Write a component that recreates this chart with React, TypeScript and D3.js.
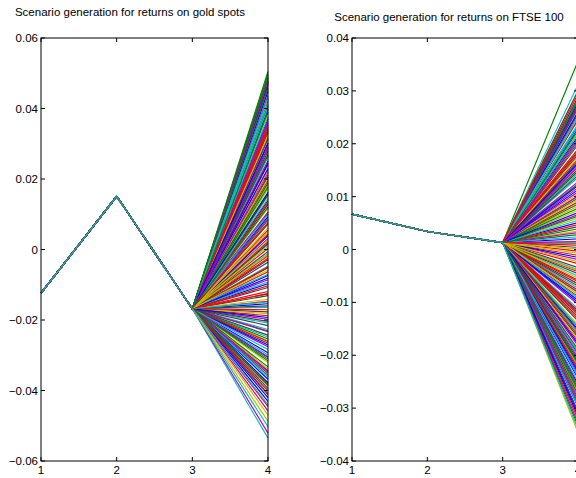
import React from 'react';
import * as d3 from 'd3';

// x positions of the scenario tree stages
const stages = [1, 2, 3, 4];

// Gold spot returns: common history for stages 1-3
const goldPath = [-0.0124, 0.0151, -0.0168];
// Gold spot returns: scenario values at stage 4
const goldEnd = [
  -0.0368, 0.0083, -0.0147, 0.0301, -0.0276, 0.0172, -0.0052, 0.0398, -0.0233, 0.0219, -0.0012, 0.0437, -0.0321, 0.0128, -0.0097, 0.0353, -0.0188, 0.0262, 0.0031, 0.0486,
  -0.0029, -0.0305, 0.0286, 0.0055, -0.0209, 0.0466, 0.0151, -0.0125, 0.0371, -0.0344, 0.0196, 0.0014, 0.0478, -0.0259, 0.0331, -0.0074, 0.0101, 0.0421, -0.0164, 0.0241,
  0.0184, -0.0177, 0.0409, -0.0357, 0.0044, 0.0273, -0.0086, 0.0493, -0.0266, 0.0139, 0.0358, 0.0003, -0.0227, 0.0224, 0.0454, -0.0131, 0.0093, -0.0311, 0.0318, -0.0047,
  -0.0198, 0.0386, 0.0072, -0.0293, 0.0247, -0.0063, 0.0489, 0.0157, -0.0339, 0.0342, -0.0154, 0.0472, 0.0022, -0.0248, 0.0297, 0.0117, -0.0108, 0.0427, 0.0206, -0.0018,
  -0.0362, 0.0088, -0.0141, 0.0313, -0.0271, 0.0178, -0.0050, 0.0404, -0.0231, 0.0223, -0.0006, 0.0449, -0.0316, 0.0133, -0.0092, 0.0359, -0.0182, 0.0268, 0.0039, 0.0482,
  -0.0025, -0.0299, 0.0291, 0.0061, -0.0204, 0.0470, 0.0155, -0.0119, 0.0376, -0.0346, 0.0201, 0.0017, 0.0474, -0.0254, 0.0336, -0.0070, 0.0106, 0.0426, -0.0160, 0.0245,
  0.0189, -0.0171, 0.0414, -0.0351, 0.0050, 0.0279, -0.0081, 0.0487, -0.0261, 0.0144, 0.0365, 0.0009, -0.0216, 0.0230, 0.0459, -0.0126, 0.0099, -0.0306, 0.0324, -0.0036,
  -0.0193, 0.0391, 0.0076, -0.0284, 0.0252, -0.0058, 0.0476, 0.0162, -0.0333, 0.0347, -0.0149, 0.0477, 0.0027, -0.0243, 0.0302, 0.0121, -0.0103, 0.0432, 0.0211, -0.0014,
  -0.0412, -0.0378, 0.0505, -0.0445, -0.0535, -0.0521, -0.0487, -0.0394, -0.0431, 0.0497, -0.0386, -0.0503, -0.0458, -0.0470, -0.0401, -0.0420,
  -0.0383, -0.0409, -0.0440,
];

// FTSE 100 returns: common history for stages 1-3
const ftsePath = [0.0067, 0.0034, 0.0013];
// FTSE 100 returns: scenario values at stage 4
const ftseEnd = [
  -0.0298, 0.0012, -0.0147, 0.0163, -0.0236, 0.0074, -0.0081, 0.0229, -0.0209, 0.0101, -0.0050, 0.0256, -0.0271, 0.0043, -0.0116, 0.0198, -0.0174, 0.0136, -0.0019, 0.0287,
  -0.0065, -0.0255, 0.0152, -0.0003, -0.0193, 0.0271, 0.0059, -0.0127, 0.0214, -0.0286, 0.0090, -0.0038, 0.0283, -0.0220, 0.0179, -0.0096, 0.0028, 0.0245, -0.0158, 0.0117,
  0.0082, -0.0166, 0.0233, -0.0294, -0.0011, 0.0144, -0.0104, 0.0280, -0.0228, 0.0051, 0.0206, -0.0042, -0.0201, 0.0109, 0.0264, -0.0135, 0.0020, -0.0263, 0.0171, -0.0073,
  -0.0182, 0.0221, 0.0004, -0.0244, 0.0124, -0.0089, 0.0285, 0.0066, -0.0279, 0.0186, -0.0151, 0.0270, -0.0027, -0.0217, 0.0159, 0.0035, -0.0120, 0.0248, 0.0097, -0.0058,
  -0.0297, 0.0015, -0.0143, 0.0167, -0.0232, 0.0078, -0.0077, 0.0232, -0.0205, 0.0105, -0.0046, 0.0260, -0.0267, 0.0047, -0.0112, 0.0202, -0.0170, 0.0140, -0.0015, 0.0273,
  -0.0061, -0.0251, 0.0156, 0.0001, -0.0189, 0.0277, 0.0063, -0.0123, 0.0218, -0.0282, 0.0094, -0.0034, 0.0268, -0.0216, 0.0183, -0.0092, 0.0032, 0.0249, -0.0154, 0.0121,
  0.0086, -0.0162, 0.0237, -0.0290, -0.0007, 0.0148, -0.0100, 0.0281, -0.0224, 0.0055, 0.0210, -0.0040, -0.0197, 0.0113, 0.0269, -0.0131, 0.0024, -0.0259, 0.0175, -0.0069,
  -0.0178, 0.0225, 0.0008, -0.0240, 0.0128, -0.0085, 0.0288, 0.0070, -0.0275, 0.0190, -0.0147, 0.0272, -0.0023, -0.0213, 0.0163, 0.0039, -0.0116, 0.0252, 0.0101, -0.0054,
  -0.0306, -0.0316, 0.0356, -0.0322, 0.0312, -0.0328, -0.0346, 0.0300, -0.0311, -0.0334, 0.0294, -0.0340,
];

const goldYTicks = [-0.06, -0.04, -0.02, 0, 0.02, 0.04, 0.06];
const ftseYTicks = [-0.04, -0.03, -0.02, -0.01, 0, 0.01, 0.02, 0.03, 0.04];

const goldTitle = 'Scenario generation for returns on gold spots';
const ftseTitle = 'Scenario generation for returns on FTSE 100';

const colorCycle = ['#0000ff', '#008000', '#ff0000', '#00bfbf', '#bf00bf', '#bfbf00', '#404040'];

const FONT = '"Liberation Sans", Arial, Helvetica, sans-serif';

function fmt(v: number): string {
  if (Math.abs(v) < 1e-12) return '0';
  return (v < 0 ? '\u2212' : '') + Math.abs(v).toFixed(2);
}

type PanelProps = {
  title: string;
  path: number[];
  ends: number[];
  yTicks: number[];
  x0: number;
  x1: number;
  top: number;
  bottom: number;
  titleX: number;
  titleY: number;
};

function Panel({ title, path, ends, yTicks, x0, x1, top, bottom, titleX, titleY }: PanelProps) {
  const x = d3.scaleLinear().domain([1, 4]).range([x0, x1]);
  const y = d3
    .scaleLinear()
    .domain([yTicks[0], yTicks[yTicks.length - 1]])
    .range([bottom, top]);
  const line = d3
    .line<number>()
    .x((_, i) => x(stages[i]))
    .y((d) => y(d));
  const tl = 4;
  return (
    <g>
      <text x={titleX} y={titleY} textAnchor="middle" fontFamily={FONT} fontSize={11.5} fill="#000">
        {title}
      </text>
      <g fill="none" strokeWidth={1.15}>
        {ends.map((e, i) => (
          <path key={i} d={line([...path, e]) || ''} stroke={colorCycle[i % colorCycle.length]} />
        ))}
      </g>
      <rect x={x0} y={top} width={x1 - x0} height={bottom - top} fill="none" stroke="#000" strokeWidth={1} />
      {stages.map((s) => (
        <g key={'x' + s}>
          <line x1={x(s)} x2={x(s)} y1={bottom} y2={bottom - tl} stroke="#000" />
          <line x1={x(s)} x2={x(s)} y1={top} y2={top + tl} stroke="#000" />
          <text x={x(s)} y={bottom + 13} textAnchor="middle" fontFamily={FONT} fontSize={11.5} fill="#000">
            {s}
          </text>
        </g>
      ))}
      {yTicks.map((t) => (
        <g key={'y' + t}>
          <line x1={x0} x2={x0 + tl} y1={y(t)} y2={y(t)} stroke="#000" />
          <line x1={x1} x2={x1 - tl} y1={y(t)} y2={y(t)} stroke="#000" />
          <text x={x0 - 3} y={y(t) + 4} textAnchor="end" fontFamily={FONT} fontSize={11.5} fill="#000">
            {fmt(t)}
          </text>
        </g>
      ))}
    </g>
  );
}

export default function App() {
  return (
    <svg width={576} height={478} style={{ position: 'absolute', left: 0, top: 0, background: '#fff' }}>
      <rect x={0} y={0} width={576} height={478} fill="#fff" />
      <Panel
        title={goldTitle}
        path={goldPath}
        ends={goldEnd}
        yTicks={goldYTicks}
        x0={41}
        x1={268}
        top={38}
        bottom={461}
        titleX={130}
        titleY={16}
      />
      <Panel
        title={ftseTitle}
        path={ftsePath}
        ends={ftseEnd}
        yTicks={ftseYTicks}
        x0={352}
        x1={578}
        top={38}
        bottom={461}
        titleX={449}
        titleY={21}
      />
    </svg>
  );
}
